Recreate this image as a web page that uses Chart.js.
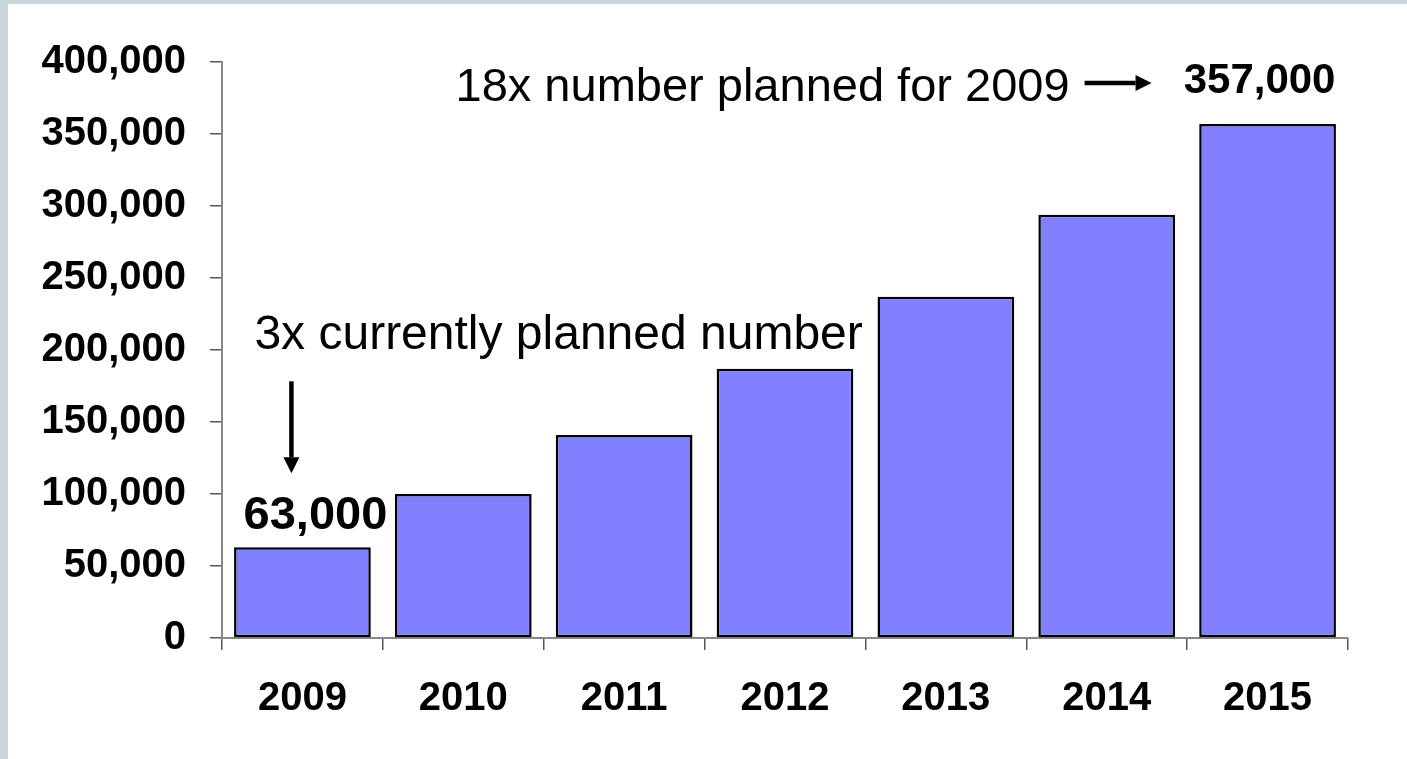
<!DOCTYPE html>
<html>
<head>
<meta charset="utf-8">
<script src="https://cdn.jsdelivr.net/npm/chart.js@4.4.0/dist/chart.umd.min.js"></script>
<style>
    html, body { margin: 0; padding: 0; background: #c9d4db; overflow: hidden; }
    #wrap { position: absolute; left: 8px; top: 4px; width: 1399px; height: 755px; background: #fff; }
</style>
</head>
<body>
<div id="wrap"><canvas id="myChart" width="1399" height="755"></canvas></div>
<script>
const years = ['2009', '2010', '2011', '2012', '2013', '2014', '2015'];
const units = [63000, 100000, 141000, 187000, 237000, 294000, 357000];
const firstLabel = '63,000';
const lastLabel = '357,000';
const noteLow = '3x currently planned number';
const noteHigh = '18x number planned for 2009';

const FONT = 'Arial, "Liberation Sans", sans-serif';

// straight arrow with a filled head
function arrow(ctx, x1, y1, x2, y2) {
    const ang = Math.atan2(y2 - y1, x2 - x1);
    const head = 16, half = 8;
    const bx = x2 - head * Math.cos(ang), by = y2 - head * Math.sin(ang);
    ctx.beginPath();
    ctx.moveTo(x1, y1);
    ctx.lineTo(bx, by);
    ctx.lineWidth = 4.5;
    ctx.strokeStyle = '#000';
    ctx.stroke();
    ctx.beginPath();
    ctx.moveTo(x2, y2);
    ctx.lineTo(bx - half * Math.sin(ang), by + half * Math.cos(ang));
    ctx.lineTo(bx + half * Math.sin(ang), by - half * Math.cos(ang));
    ctx.closePath();
    ctx.fillStyle = '#000';
    ctx.fill();
}

const notes = {
    id: 'notes',
    afterDraw(chart) {
        const ctx = chart.ctx;
        const x = chart.scales.x, y = chart.scales.y;
        ctx.save();
        ctx.fillStyle = '#000';
        ctx.textBaseline = 'alphabetic';

        // first bar
        const x0 = x.getPixelForValue(0);
        const y0 = y.getPixelForValue(units[0]);
        ctx.font = 'bold 47px ' + FONT;
        ctx.textAlign = 'center';
        ctx.fillText(firstLabel, x0 + 13, y0 - 18);
        arrow(ctx, x0 - 11, y0 - 166, x0 - 11, y0 - 74);
        ctx.font = '48px ' + FONT;
        ctx.textAlign = 'left';
        ctx.fillText(noteLow, x0 - 48, y0 - 198);

        // last bar
        const xn = x.getPixelForValue(units.length - 1);
        const yn = y.getPixelForValue(units[units.length - 1]);
        ctx.font = 'bold 42px ' + FONT;
        ctx.textAlign = 'center';
        ctx.fillText(lastLabel, xn - 8, yn - 31);
        arrow(ctx, xn - 183, yn - 41, xn - 116, yn - 41);
        ctx.font = '47px ' + FONT;
        ctx.textAlign = 'right';
        ctx.fillText(noteHigh, xn - 198, yn - 23);
        ctx.restore();
    }
};

const ctx = document.getElementById('myChart').getContext('2d');
const myChart = new Chart(ctx, {
    type: 'bar',
    data: {
        labels: years,
        datasets: [{
            data: units,
            backgroundColor: '#8080ff',
            borderColor: '#000',
            borderWidth: 2.5,
            borderSkipped: false,
            categoryPercentage: 0.85,
            barPercentage: 1
        }]
    },
    options: {
        responsive: false,
        animation: false,
        layout: { padding: { top: 58, right: 59, bottom: 0, left: 0 } },
        plugins: { legend: { display: false }, tooltip: { enabled: false } },
        scales: {
            x: {
                grid: { drawOnChartArea: false, tickLength: 12, color: '#555', lineWidth: 1.5 },
                border: { color: '#888', width: 2 },
                ticks: { color: '#000', padding: 25, font: { family: FONT, size: 40, weight: 'bold' } },
                afterFit(scale) { scale.height = 121; }
            },
            y: {
                min: 0,
                max: 400000,
                grid: { drawOnChartArea: false, tickLength: 12, color: '#555', lineWidth: 1.5 },
                border: { color: '#888', width: 2 },
                ticks: {
                    stepSize: 50000,
                    color: '#000',
                    padding: 24,
                    font: { family: FONT, size: 40, weight: 'bold' },
                    callback: v => v.toLocaleString('en-US')
                },
                afterFit(scale) { scale.width = 214; }
            }
        }
    },
    plugins: [notes]
});
</script>
</body>
</html>
